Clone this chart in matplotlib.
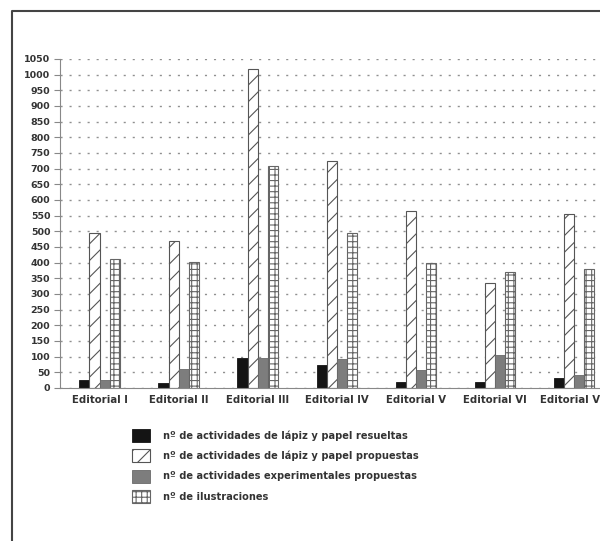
import numpy as np
import matplotlib.pyplot as plt
from matplotlib.lines import Line2D

plt.rcParams['font.family'] = ['DejaVu Sans']
plt.rcParams['hatch.linewidth'] = 0.8

editoriales = ['Editorial I', 'Editorial II', 'Editorial III', 'Editorial IV',
               'Editorial V', 'Editorial VI', 'Editorial VII']
resueltas = [25, 15, 95, 73, 20, 20, 31]
propuestas = [495, 470, 1017, 725, 565, 335, 555]
experimentales = [25, 60, 97, 91, 57, 105, 41]
ilustraciones = [410, 403, 707, 495, 400, 370, 380]

etiquetas = ['nº de actividades de lápiz y papel resueltas',
             'nº de actividades de lápiz y papel propuestas',
             'nº de actividades experimentales propuestas',
             'nº de ilustraciones']

fig = plt.figure(figsize=(6, 5.41), dpi=100)
ax = fig.add_axes([0.1, 0.283, 0.922, 0.608])

x = np.arange(len(editoriales))
w = 0.127
b1 = ax.bar(x - 1.5 * w, resueltas, w, color='#141414', edgecolor='#141414', linewidth=0.6)
b2 = ax.bar(x - 0.5 * w, propuestas, w, color='white', edgecolor='#555555', hatch='//', linewidth=0.8)
b3 = ax.bar(x + 0.5 * w, experimentales, w, color='#7d7d7d', edgecolor='#6a6a6a', linewidth=0.6)
b4 = ax.bar(x + 1.5 * w, ilustraciones, w, color='white', edgecolor='#666666', hatch='+++', linewidth=0.8)

ax.set_xlim(-0.5, 6.5)
ax.set_ylim(0, 1050)
ax.set_yticks(np.arange(0, 1051, 50))
ax.set_xticks(x)
ax.set_xticklabels(editoriales, fontsize=7.3, fontweight='bold', color='#333333')
for lbl in ax.get_yticklabels():
    lbl.set_fontsize(6.8)
    lbl.set_fontweight('bold')
    lbl.set_color('#333333')
ax.tick_params(axis='y', length=4, width=0.8, color='#888888', pad=3)
ax.tick_params(axis='x', length=0, pad=5)

ax.yaxis.grid(True, linestyle=(0, (1.5, 5)), color='#909090', linewidth=1.0)
ax.set_axisbelow(True)
for s in ['top', 'right']:
    ax.spines[s].set_visible(False)
ax.spines['left'].set_color('#888888')
ax.spines['bottom'].set_color('#888888')

leg = fig.legend([b1, b2, b3, b4], etiquetas, loc='upper left',
                 bbox_to_anchor=(0.205, 0.224), frameon=False,
                 handlelength=1.8, handleheight=1.7, labelspacing=0.72,
                 handletextpad=1.35, prop={'size': 7.1, 'weight': 'bold'})
for t in leg.get_texts():
    t.set_color('#333333')

# marco exterior
fig.add_artist(Line2D([0.02, 0.02, 1.0], [0.0, 0.98, 0.98],
                      transform=fig.transFigure, color='#444444', lw=1.5))

fig.savefig('out.png', dpi=100)
